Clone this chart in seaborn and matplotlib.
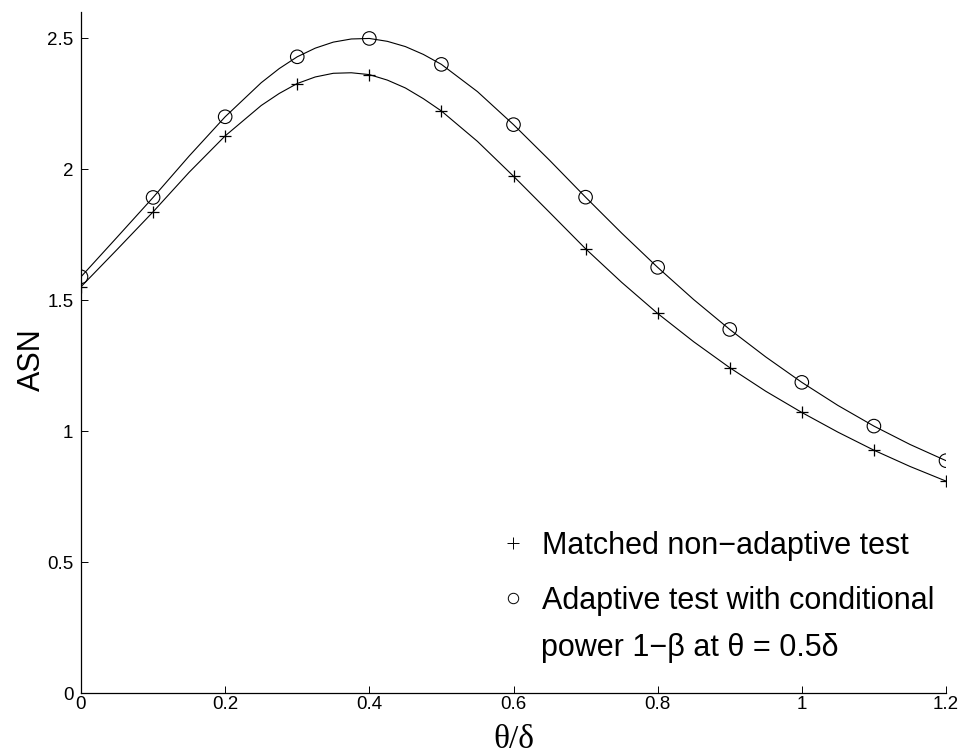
import matplotlib
matplotlib.use("Agg")
import matplotlib.pyplot as plt
from matplotlib.lines import Line2D
import seaborn as sns
import pandas as pd

# Marker positions (theta/delta) and values
theta_pts = [0.0, 0.1, 0.2, 0.3, 0.4, 0.5, 0.6, 0.7, 0.8, 0.9, 1.0, 1.1, 1.2]
asn_matched_pts = [1.551, 1.837, 2.127, 2.327, 2.361, 2.222, 1.973, 1.696,
                   1.449, 1.242, 1.071, 0.927, 0.809]
asn_adaptive_pts = [1.589, 1.892, 2.200, 2.429, 2.499, 2.400, 2.170, 1.893,
                    1.625, 1.388, 1.186, 1.019, 0.887]

# Smooth curves at a finer step (finer near the peak)
theta_curve = [0.0, 0.05, 0.1, 0.15, 0.2, 0.25, 0.275, 0.3, 0.325, 0.35,
               0.375, 0.4, 0.425, 0.45, 0.475, 0.5, 0.55, 0.6, 0.65, 0.7,
               0.75, 0.8, 0.85, 0.9, 0.95, 1.0, 1.05, 1.1, 1.15, 1.2]
asn_matched_curve = [1.551, 1.693, 1.837, 1.988, 2.127, 2.243, 2.289, 2.327,
                     2.352, 2.366, 2.368, 2.361, 2.340, 2.310, 2.269, 2.222,
                     2.106, 1.973, 1.835, 1.696, 1.568, 1.449, 1.341, 1.242,
                     1.152, 1.071, 0.996, 0.927, 0.865, 0.809]
asn_adaptive_curve = [1.589, 1.740, 1.892, 2.050, 2.200, 2.330, 2.384, 2.429,
                      2.462, 2.485, 2.497, 2.499, 2.488, 2.468, 2.438, 2.400,
                      2.296, 2.170, 2.034, 1.893, 1.756, 1.625, 1.502, 1.388,
                      1.283, 1.186, 1.098, 1.019, 0.949, 0.887]

xticks = [0, 0.2, 0.4, 0.6, 0.8, 1.0, 1.2]
xticklabels = ["0", "0.2", "0.4", "0.6", "0.8", "1", "1.2"]
yticks = [0, 0.5, 1.0, 1.5, 2.0, 2.5]
yticklabels = ["0", "0.5", "1", "1.5", "2", "2.5"]

label_matched = "Matched non\u2212adaptive test"
label_adaptive_1 = "Adaptive test with conditional"
label_adaptive_2 = "power 1\u2212\u03b2 at \u03b8 = 0.5\u03b4"

sns.set_theme(style="white")
plt.rcParams["font.family"] = ["Liberation Sans", "DejaVu Sans"]
for key in ["text.color", "axes.labelcolor", "xtick.color", "ytick.color",
            "axes.edgecolor"]:
    plt.rcParams[key] = "black"

W, H = 963, 754
fig = plt.figure(figsize=(W / 100, H / 100), dpi=100)
ax = fig.add_axes([81 / W, 1 - 693 / H, (946 - 81) / W, (693 - 12) / H])

curves = pd.DataFrame({"theta": theta_curve,
                       "matched": asn_matched_curve,
                       "adaptive": asn_adaptive_curve})
pts = pd.DataFrame({"theta": theta_pts,
                    "matched": asn_matched_pts,
                    "adaptive": asn_adaptive_pts})

sns.lineplot(data=curves, x="theta", y="matched", color="black", lw=0.8, ax=ax)
sns.lineplot(data=curves, x="theta", y="adaptive", color="black", lw=0.8, ax=ax)
sns.scatterplot(data=pts, x="theta", y="matched", marker="+", s=75,
                color="black", linewidth=0.9, ax=ax, zorder=3)
sns.scatterplot(data=pts, x="theta", y="adaptive", marker="o", s=95,
                facecolor="none", edgecolor="black", linewidth=0.8, ax=ax,
                zorder=3)

ax.set_xlim(0, 1.2)
ax.set_ylim(0, 2.6)
ax.set_xticks(xticks)
ax.set_xticklabels(xticklabels)
ax.set_yticks(yticks)
ax.set_yticklabels(yticklabels)
ax.tick_params(direction="in", length=5, width=0.7, color="black",
               labelsize=13.5, labelcolor="black", bottom=True, left=True)
ax.tick_params(axis="x", pad=2.5)
ax.tick_params(axis="y", pad=5.5)
for side in ["top", "right"]:
    ax.spines[side].set_visible(False)
for side in ["left", "bottom"]:
    ax.spines[side].set_color("black")
    ax.spines[side].set_linewidth(0.9)

ax.set_xlabel("\u03b8/\u03b4", fontsize=24, family=["Liberation Serif"],
              labelpad=8)
ax.set_ylabel("ASN", fontsize=22)
ax.yaxis.set_label_coords((47 - 81) / (946 - 81), 0.49)

handles = [
    Line2D([], [], marker="+", ls="none", color="black", markersize=8,
           markeredgewidth=0.7),
    Line2D([], [], marker="o", ls="none", markerfacecolor="none",
           markeredgecolor="black", markersize=7.5, markeredgewidth=0.7),
]
leg = ax.legend(handles, [label_matched, label_adaptive_1],
                loc="upper left", bbox_to_anchor=(498 / W, 1 - 531 / H),
                bbox_transform=fig.transFigure,
                frameon=False, fontsize=22, handlelength=1.0,
                handletextpad=0.43, labelspacing=0.82, borderaxespad=0,
                borderpad=0)
fig.text(541 / W, 1 - 656 / H, label_adaptive_2, fontsize=22,
         ha="left", va="baseline", color="black")

fig.savefig("out.png", dpi=100)
